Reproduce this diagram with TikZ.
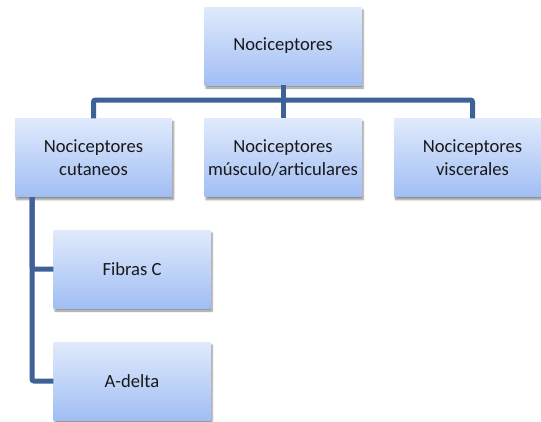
\documentclass[tikz,border=0pt]{standalone}
\usepackage{fontspec}
\setmainfont{Carlito}
\usetikzlibrary{positioning,shadows.blur}

\definecolor{boxtop}{HTML}{E0EAFC}
\definecolor{boxbot}{HTML}{A1BEF4}
\definecolor{linkc}{HTML}{3E6197}

\begin{document}
\begin{tikzpicture}[x=1pt,y=-1pt,
  box/.style={rectangle,minimum width=157pt,minimum height=78pt,align=center,
    top color=boxtop,bottom color=boxbot,text=black!90,
    font=\fontsize{18.6}{23}\selectfont,
    blur shadow={shadow xshift=1.5pt,shadow yshift=-3pt,shadow blur steps=6,shadow opacity=45}},
  link/.style={draw=linkc,line width=5pt,rounded corners=2pt}]
\useasboundingbox (0,0) rectangle (541,421);

\node[box] (N) at (283,46) {Nociceptores};
\node[box] (Cut) at (93.5,157.5) {Nociceptores\\cutaneos};
\node[box] (Mus) at (283,157.5) {Nociceptores\\músculo/articulares};
\node[box] (Vis) at (472.5,157.5) {Nociceptores\\viscerales};
\node[box] (Fib) at (132,269) {Fibras C};
\node[box] (Ad) at (132,381) {A-delta};

\coordinate (fork) at (283,100);
\coordinate (cutdown) at (32,197);

\draw[link] (N.south) -- (fork);
\draw[link] (Cut.north) |- (fork) -| (Vis.north);
\draw[link] (fork) -- (Mus.north);
\draw[link] (cutdown) |- (Fib.west);
\draw[link] (cutdown) |- (Ad.west);
\end{tikzpicture}
\end{document}
